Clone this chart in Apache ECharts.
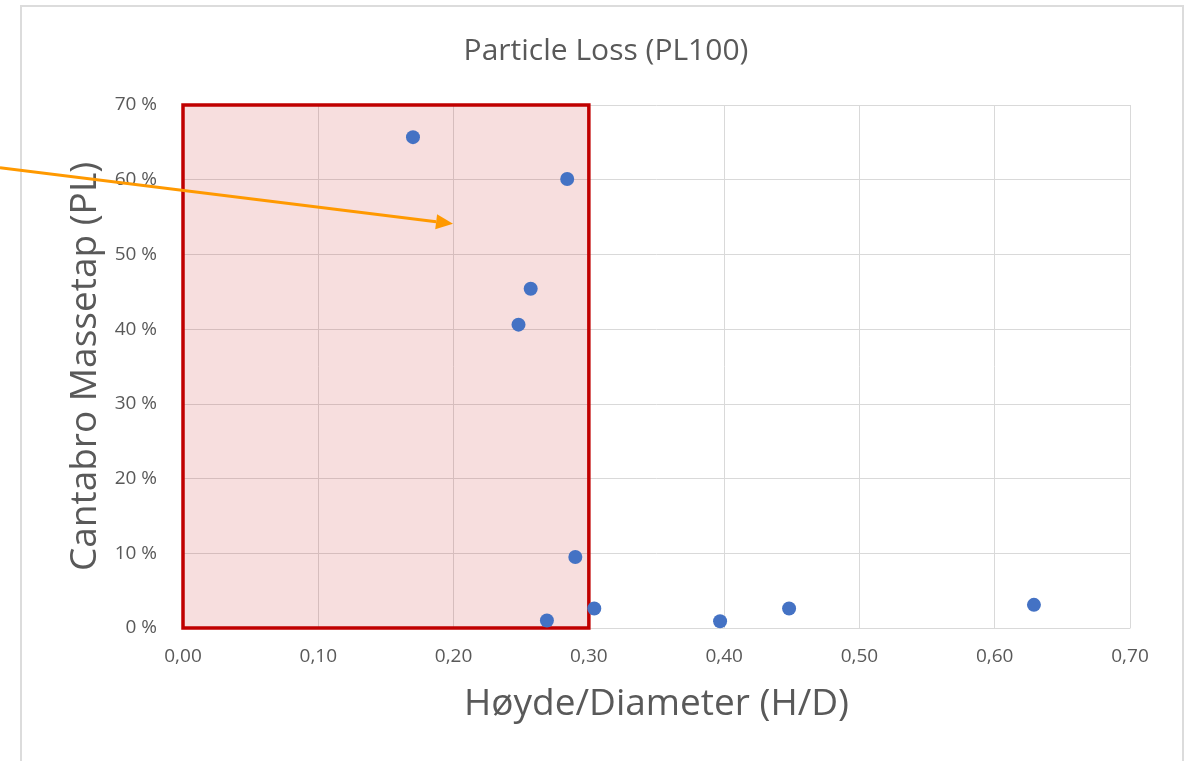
<!DOCTYPE html>
<html><head><meta charset="utf-8">
<script src="https://cdn.jsdelivr.net/npm/echarts@6/dist/echarts.min.js"></script>
<style>html,body{margin:0;padding:0;background:#fff}#c{width:1187px;height:761px}</style>
</head><body><div id="c"></div>
<script>
// Data
const hdRatio  = [0.170, 0.284, 0.257, 0.248, 0.290, 0.269, 0.304, 0.397, 0.448, 0.629];
const massLoss = [65.7, 60.1, 45.4, 40.6, 9.5, 1.0, 2.6, 0.9, 2.6, 3.1];
const xTickValues = [0, 0.1, 0.2, 0.3, 0.4, 0.5, 0.6, 0.7];
const yTickValues = [0, 10, 20, 30, 40, 50, 60, 70];
const highlightFrom = [0, 0];
const highlightTo = [0.30, 70];
const arrowFrom = [-0.1353, 61.6];
const arrowTo = [0.1996, 54.1];

const FONT = '"Open Sans", sans-serif';
const TXT = '#595959';

const chart = echarts.init(document.getElementById('c'), null, {renderer: 'canvas'});
const pts = hdRatio.map((x, i) => [x, massLoss[i]]);

const frame = {
  type: 'rect', silent: true, z: -1,
  shape: {x: 21, y: 6, width: 1162, height: 780},
  style: {fill: 'none', stroke: '#DCDCDC', lineWidth: 2}
};

chart.setOption({
  animation: false,
  backgroundColor: '#fff',
  title: {
    text: 'Particle Loss (PL100)', left: 601, top: 31, textAlign: 'center',
    textStyle: {fontFamily: FONT, fontSize: 30, fontWeight: 'normal', color: TXT}
  },
  grid: {left: 183, right: 57, top: 105, bottom: 133, containLabel: false},
  xAxis: {
    type: 'value', min: 0, max: 0.7, interval: 0.1,
    name: 'Høyde/Diameter (H/D)', nameLocation: 'middle', nameGap: 58,
    nameTextStyle: {fontFamily: FONT, fontSize: 37, color: TXT},
    axisLine: {show: true, lineStyle: {color: '#D9D9D9', width: 1}},
    axisTick: {show: false},
    splitLine: {show: true, lineStyle: {color: '#D9D9D9', width: 1}},
    axisLabel: {fontFamily: FONT, fontSize: 19, color: TXT, margin: 19,
      formatter: v => v.toFixed(2).replace('.', ',')}
  },
  yAxis: {
    type: 'value', min: 0, max: 70, interval: 10,
    name: 'Cantabro Massetap (PL)', nameLocation: 'middle', nameGap: 71,
    nameTextStyle: {fontFamily: FONT, fontSize: 37, color: TXT},
    axisLine: {show: false}, axisTick: {show: false},
    splitLine: {show: true, lineStyle: {color: '#D9D9D9', width: 1}},
    axisLabel: {fontFamily: FONT, fontSize: 19, color: TXT, margin: 26,
      formatter: v => v + ' %'}
  },
  series: [
    {
      type: 'scatter', data: pts, symbol: 'circle', symbolSize: 14, z: 2,
      itemStyle: {color: '#4472C4', opacity: 1}
    },
    {
      type: 'scatter', data: [], z: 5, silent: true,
      markArea: {
        silent: true,
        itemStyle: {color: 'rgba(192,0,0,0.13)', borderColor: '#C00000', borderWidth: 3.5},
        data: [[{coord: highlightFrom}, {coord: highlightTo}]]
      }
    }
  ],
  graphic: [frame]
});

// Arrow annotation, placed via the chart's own coordinate conversion
const p0 = chart.convertToPixel({gridIndex: 0}, arrowFrom);
const p1 = chart.convertToPixel({gridIndex: 0}, arrowTo);
const ang = Math.atan2(p1[1] - p0[1], p1[0] - p0[0]);
const L = 17, W = 7.5;
const base = [p1[0] - L * Math.cos(ang), p1[1] - L * Math.sin(ang)];
const nx = -Math.sin(ang), ny = Math.cos(ang);
chart.setOption({
  graphic: [
    frame,
    {
      type: 'line', silent: true, z: 100,
      shape: {x1: p0[0], y1: p0[1], x2: base[0], y2: base[1]},
      style: {stroke: '#FF9900', lineWidth: 3}
    },
    {
      type: 'polygon', silent: true, z: 100,
      shape: {points: [[p1[0], p1[1]], [base[0] + nx * W, base[1] + ny * W], [base[0] - nx * W, base[1] - ny * W]]},
      style: {fill: '#FF9900'}
    }
  ]
}, {replaceMerge: ['graphic']});
</script>
</body></html>
